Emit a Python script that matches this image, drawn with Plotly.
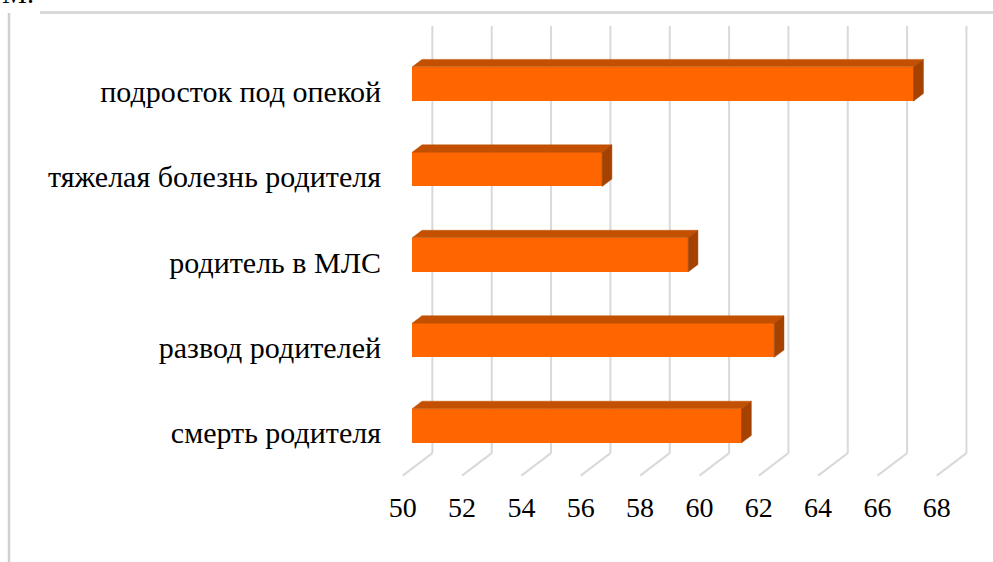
import plotly.graph_objects as go

# --- data -------------------------------------------------------------
categories = [
    "смерть родителя",
    "развод родителей",
    "родитель в МЛС",
    "тяжелая болезнь родителя",
    "подросток под опекой",
]
values = [61.1, 62.2, 59.3, 56.4, 66.9]
tick_values = [50, 52, 54, 56, 58, 60, 62, 64, 66, 68]
axis_min = 50

# --- pseudo-3D projection (front plane = axis coordinates) ------------
DEPTH_X = 1.0      # shift of the back wall, in value units
DEPTH_Y = 0.263    # shift of the back wall, in category units
Z_FRONT = 0.32     # depth of bar front face (0 = front, 1 = back wall)
Z_BACK = 0.65      # depth of bar back face
HALF = 0.2         # half height of a bar
FLOOR = -0.5
WALL_TOP = 4.5

FRONT_COLOR = "#FF6600"
TOP_COLOR = "#C25000"
SIDE_COLOR = "#A54200"
GRID_COLOR = "#D9D9D9"
FONT = "Liberation Serif, Times New Roman, DejaVu Serif, serif"

fig = go.Figure()

# back wall gridlines with floor diagonals, kept beneath the bars
for t in tick_values:
    fig.add_shape(type="line", xref="x", yref="y", layer="below",
                  x0=t, y0=FLOOR, x1=t + DEPTH_X, y1=FLOOR + DEPTH_Y,
                  line=dict(color=GRID_COLOR, width=2))
    fig.add_shape(type="line", xref="x", yref="y", layer="below",
                  x0=t + DEPTH_X, y0=FLOOR + DEPTH_Y,
                  x1=t + DEPTH_X, y1=WALL_TOP + DEPTH_Y,
                  line=dict(color=GRID_COLOR, width=2))

ypos = list(range(len(categories)))

# front faces
fig.add_trace(go.Bar(
    orientation="h",
    y=[i + Z_FRONT * DEPTH_Y for i in ypos],
    x=[v - axis_min for v in values],
    base=axis_min + Z_FRONT * DEPTH_X,
    width=2 * HALF,
    marker=dict(color=FRONT_COLOR, line=dict(width=0)),
    showlegend=False,
    hovertemplate="%{customdata}: %{text}<extra></extra>",
    customdata=categories,
    text=[f"{v}" for v in values],
    textposition="none",
))

# top and side faces of each bar
for i, v in zip(ypos, values):
    xf0 = axis_min + Z_FRONT * DEPTH_X
    xb0 = axis_min + Z_BACK * DEPTH_X
    xf1 = v + Z_FRONT * DEPTH_X
    xb1 = v + Z_BACK * DEPTH_X
    yf_top = i + HALF + Z_FRONT * DEPTH_Y
    yb_top = i + HALF + Z_BACK * DEPTH_Y
    yf_bot = i - HALF + Z_FRONT * DEPTH_Y
    yb_bot = i - HALF + Z_BACK * DEPTH_Y
    fig.add_trace(go.Scatter(
        x=[xf0, xf1, xb1, xb0, xf0], y=[yf_top, yf_top, yb_top, yb_top, yf_top],
        mode="lines", fill="toself", fillcolor=TOP_COLOR,
        line=dict(color=TOP_COLOR, width=0.5), hoverinfo="skip", showlegend=False))
    fig.add_trace(go.Scatter(
        x=[xf1, xf1, xb1, xb1, xf1], y=[yf_bot, yf_top, yb_top, yb_bot, yf_bot],
        mode="lines", fill="toself", fillcolor=SIDE_COLOR,
        line=dict(color=SIDE_COLOR, width=0.5), hoverinfo="skip", showlegend=False))

W, H = 993, 562
ML, MB = 392, 82
plot_w, plot_h = W - ML, H - MB


def px_x(p):
    return (p - ML) / plot_w


def px_y(p):
    return (plot_h - p) / plot_h


# outer chart frame
fig.add_shape(type="line", xref="paper", yref="paper",
              x0=px_x(40), x1=1.0, y0=px_y(12.5), y1=px_y(12.5),
              line=dict(color="#D9D9D9", width=3))
fig.add_shape(type="line", xref="paper", yref="paper",
              x0=px_x(9), x1=px_x(9), y0=px_y(13), y1=px_y(H),
              line=dict(color="#CFCFCF", width=2.5))

# heading text above the frame
fig.add_annotation(text="М.", xref="paper", yref="paper",
                   x=px_x(0), y=px_y(11), xanchor="left", yanchor="bottom",
                   showarrow=False, font=dict(family=FONT, size=28, color="#000000"))

fig.update_layout(
    width=W, height=H,
    margin=dict(l=ML, r=0, t=0, b=MB, pad=0),
    paper_bgcolor="white", plot_bgcolor="white",
    font=dict(family=FONT, size=28, color="#000000"),
    bargap=0,
    xaxis=dict(range=[49.639, 69.895], tickvals=tick_values,
               ticktext=[str(t) for t in tick_values],
               tickfont=dict(size=28),
               showgrid=False, zeroline=False, showline=False, ticks="",
               ticklabelstandoff=8, fixedrange=True),
    yaxis=dict(range=[-0.551, 5.066], tickvals=ypos, ticktext=categories,
               tickfont=dict(size=30),
               showgrid=False, zeroline=False, showline=False, ticks="",
               ticklabelstandoff=10, fixedrange=True),
)

fig.write_html("out.html")
